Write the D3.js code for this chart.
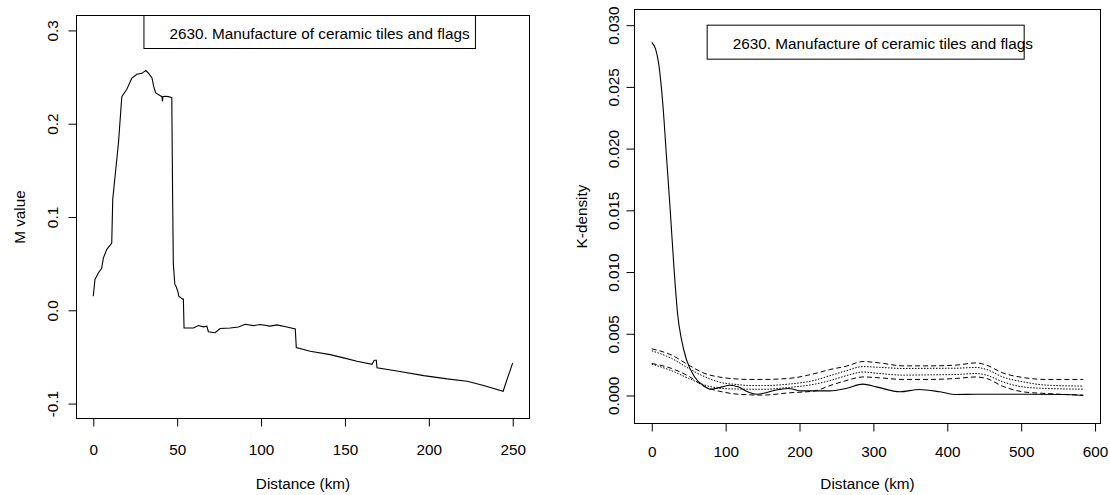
<!DOCTYPE html>
<html>
<head>
<meta charset="utf-8">
<script src="https://cdn.jsdelivr.net/npm/d3@7"></script>
<style>
	body { margin: 0; background: #fff; }
	svg text { font-family: "Liberation Sans", Arial, sans-serif; font-size: 15.3px; fill: #000; }
</style>
</head>
<body>
<div id="chart"></div>
<script>

/* --------------------- Data ---------------------- */

let legendLabel = '2630. Manufacture of ceramic tiles and flags';

// left panel: M value against distance
let mDist = [0, 1, 3, 5, 6, 8, 11, 11.6, 13, 15, 17, 20, 23, 26, 29, 31.3, 33, 35, 36, 37.2,
	40, 41, 41.2, 41.5, 42.8, 44.8, 46.8, 47.3, 47.7, 48.6, 49.5, 50.4, 51, 53.3, 53.7, 54.1,
	59.7, 62.6, 65.6, 67.7, 68.6, 72.6, 75.6, 81.6, 86.5, 90.5, 95.5, 99.5, 105.4, 109.4,
	115.4, 120.4, 121, 129.3, 141.2, 149.2, 157.2, 166.1, 167.5, 168.7, 169.1, 181, 197,
	210.9, 222.8, 232.7, 244.3, 245.6, 247.6, 250];
let mValue = [0.015, 0.033, 0.040, 0.045, 0.056, 0.065, 0.072, 0.119, 0.144, 0.179, 0.229, 0.237,
	0.249, 0.253, 0.254, 0.257, 0.254, 0.249, 0.240, 0.233,
	0.230, 0.229, 0.224, 0.229, 0.2295, 0.229, 0.228, 0.12, 0.05, 0.028, 0.025, 0.020, 0.015,
	0.012, 0.012, -0.019,
	-0.019, -0.0164, -0.0178, -0.017, -0.023, -0.024, -0.0196, -0.019, -0.018, -0.015, -0.0164,
	-0.0153, -0.017, -0.0157,
	-0.018, -0.020, -0.040, -0.044, -0.0475, -0.051, -0.0547, -0.058, -0.0536, -0.0536, -0.0617,
	-0.065, -0.070,
	-0.0735, -0.076, -0.0807, -0.0868, -0.0796, -0.069, -0.0564];
let mTicksX = [0, 50, 100, 150, 200, 250];
let mTicksY = [-0.1, 0.0, 0.1, 0.2, 0.3];
let mTickLabelsY = ['-0.1', '0.0', '0.1', '0.2', '0.3'];

// right panel: observed K-density
let kDist = [0, 5, 10, 15, 20, 25, 30, 35, 40, 47, 58, 70, 80, 95, 106, 117, 130, 142, 153, 167,
	185, 203, 230, 241, 263, 286, 304, 336, 362, 390, 412, 439, 466, 511, 556, 584];
let kObserved = [0.0286, 0.0281, 0.0266, 0.0236, 0.0193, 0.0150, 0.0104, 0.0066, 0.0046, 0.0029,
	0.0015, 0.0008, 0.0005, 0.0007, 0.00083, 0.0007, 0.0003, 0.0001, 0.0002, 0.00043,
	0.00057, 0.00037, 0.00037, 0.00037, 0.00057, 0.00092, 0.0007, 0.0003, 0.00049, 0.0003,
	0.00008, 0.0001, 0.0001, 0.0001, 0.00008, 0];

// right panel: confidence bands
let envDist = [0, 27, 50, 72, 95, 117, 130, 150, 185, 221, 241, 263, 286, 308, 340, 376, 412,
	439, 453, 475, 502, 534, 584];
let upperGlobal = [0.00378, 0.00327, 0.00246, 0.00178, 0.00146, 0.00133, 0.0013, 0.0013, 0.00138,
	0.00178, 0.0021, 0.00237, 0.00275, 0.00264, 0.0024, 0.0024, 0.00246, 0.00264, 0.00246,
	0.00183, 0.00146, 0.0013, 0.0013];
let upperLocal = [0.00362, 0.003, 0.00219, 0.00151, 0.00103, 0.00088, 0.00081, 0.0008, 0.00092,
	0.00124, 0.0016, 0.002, 0.00234, 0.00228, 0.00219, 0.0022, 0.00221, 0.00227, 0.00211,
	0.0015, 0.00111, 0.00084, 0.00076];
let lowerLocal = [0.00254, 0.002, 0.00138, 0.00084, 0.00057, 0.00052, 0.00051, 0.0005, 0.00065,
	0.00092, 0.0012, 0.0016, 0.0019, 0.00178, 0.00165, 0.00167, 0.0017, 0.00178, 0.00165,
	0.00111, 0.0007, 0.00057, 0.00051];
let lowerGlobal = [0.00259, 0.00219, 0.00156, 0.0007, 0.0003, 0.0001, 0.00006, 0.00003, 0.00021,
	0.00037, 0.0008, 0.0012, 0.0015, 0.00143, 0.0013, 0.0013, 0.00138, 0.0015, 0.00138,
	0.00075, 0.0003, 0.00016, 0.00003];
let kTicksX = [0, 100, 200, 300, 400, 500, 600];
let kTicksY = [0, 0.005, 0.010, 0.015, 0.020, 0.025, 0.030];
let kTickLabelsY = ['0.000', '0.005', '0.010', '0.015', '0.020', '0.025', '0.030'];

function app() {

	let svg = d3.select('#chart')
		.append('svg')
		.attr('width', 1110)
		.attr('height', 495);

	// draws one R-style panel: box, axes, titles and a legend box
	function drawPanel(p) {
		let x = d3.scaleLinear().domain(p.xDomain).range([p.left, p.right]);
		let y = d3.scaleLinear().domain(p.yDomain).range([p.bottom, p.top]);
		let g = svg.append('g');

		let xAxis = g.append('g')
			.attr('transform', 'translate(0,' + p.bottom + ')')
			.call(d3.axisBottom(x).tickValues(p.ticksX).tickSize(8).tickFormat(d3.format('d')));
		xAxis.select('.domain').remove();
		xAxis.selectAll('text')
			.attr('y', p.xLabelGap)
			.attr('dy', null)
			.style('font-size', '15.3px')
			.style('font-family', '"Liberation Sans", Arial, sans-serif');

		let yAxis = g.append('g')
			.attr('transform', 'translate(' + p.left + ',0)')
			.call(d3.axisLeft(y).tickValues(p.ticksY).tickSize(8)
				.tickFormat((d, i) => p.tickLabelsY[i]));
		yAxis.select('.domain').remove();
		yAxis.selectAll('text')
			.attr('transform', 'rotate(-90)')
			.attr('x', 0)
			.attr('y', -p.yLabelGap)
			.attr('dy', null)
			.attr('text-anchor', 'middle')
			.style('font-size', '15.3px')
			.style('font-family', '"Liberation Sans", Arial, sans-serif');

		g.selectAll('.tick line').attr('stroke', '#000');

		// plot box
		g.append('rect')
			.attr('x', p.left)
			.attr('y', p.top)
			.attr('width', p.right - p.left)
			.attr('height', p.bottom - p.top)
			.attr('fill', 'none')
			.attr('stroke', '#000');

		// axis titles
		g.append('text')
			.attr('x', (p.left + p.right) / 2)
			.attr('y', p.xTitleY)
			.attr('text-anchor', 'middle')
			.text('Distance (km)');
		g.append('text')
			.attr('transform', 'translate(' + p.yTitleX + ',' + (p.top + p.bottom) / 2 + ') rotate(-90)')
			.attr('text-anchor', 'middle')
			.text(p.yTitle);

		// legend
		let lx = x(p.legend.x), ly = y(p.legend.y);
		g.append('rect')
			.attr('x', lx)
			.attr('y', ly)
			.attr('width', p.legend.w)
			.attr('height', p.legend.h)
			.attr('fill', '#fff')
			.attr('stroke', '#000');
		g.append('text')
			.attr('x', lx + 25.5)
			.attr('y', ly + 23.5)
			.text(legendLabel);

		return {g: g, x: x, y: y};
	}

	/* --------------------- Left panel ---------------------- */

	let left = drawPanel({
		left: 76.5, right: 529.5, top: 15.5, bottom: 418.5,
		xDomain: [-10, 260], yDomain: [-0.116, 0.316],
		ticksX: mTicksX, ticksY: mTicksY, tickLabelsY: mTickLabelsY,
		xLabelGap: 36.5, yLabelGap: 18.5,
		xTitleY: 488.5, yTitleX: 25, yTitle: 'M value',
		legend: {x: 30.2, y: 0.316, w: 331.5, h: 33}
	});

	let mLine = d3.line()
		.x(d => left.x(d[0]))
		.y(d => left.y(d[1]));
	left.g.append('path')
		.datum(mDist.map((d, i) => [d, mValue[i]]))
		.attr('d', mLine)
		.attr('fill', 'none')
		.attr('stroke', '#000')
		.attr('stroke-width', 1.1);

	/* --------------------- Right panel ---------------------- */

	let right = drawPanel({
		left: 634.5, right: 1100.5, top: 9.5, bottom: 423.5,
		xDomain: [-23.36, 607.36], yDomain: [-0.00227, 0.03127],
		ticksX: kTicksX, ticksY: kTicksY, tickLabelsY: kTickLabelsY,
		xLabelGap: 33.5, yLabelGap: 16,
		xTitleY: 489, yTitleX: 586.5, yTitle: 'K-density',
		legend: {x: 75, y: 0.030, w: 317, h: 34}
	});

	let kLine = d3.line()
		.curve(d3.curveMonotoneX)
		.x(d => right.x(d[0]))
		.y(d => right.y(d[1]));

	let bands = [
		{values: upperGlobal, dash: '5,3'},
		{values: upperLocal, dash: '1.5,1.5'},
		{values: lowerLocal, dash: '1.5,1.5'},
		{values: lowerGlobal, dash: '5,3'}
	];
	bands.forEach(function(band) {
		right.g.append('path')
			.datum(envDist.map((d, i) => [d, band.values[i]]))
			.attr('d', kLine)
			.attr('fill', 'none')
			.attr('stroke', '#000')
			.attr('stroke-width', 1)
			.attr('stroke-dasharray', band.dash);
	});

	right.g.append('path')
		.datum(kDist.map((d, i) => [d, kObserved[i]]))
		.attr('d', kLine)
		.attr('fill', 'none')
		.attr('stroke', '#000')
		.attr('stroke-width', 1.1);
}

app();
</script>
</body>
</html>
